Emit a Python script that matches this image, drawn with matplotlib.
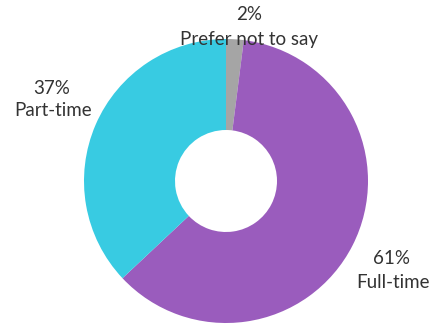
import matplotlib
matplotlib.use("Agg")
import matplotlib.pyplot as plt

categories = ["Prefer not to say", "Full-time", "Part-time"]
values = [2, 61, 37]
colors = ["#a5a5a5", "#9a5cbd", "#38cbe2"]

fig = plt.figure(figsize=(4.32, 3.24), dpi=100)
ax = fig.add_axes([0, 0, 1, 1])

cx, cy, r = 226, 181, 142
# y axis is inverted (pixel-like coords), so visual clockwise from top = counterclock from 270
ax.pie(values, colors=colors, startangle=270, counterclock=True,
       center=(cx, cy), radius=r, wedgeprops=dict(width=91, linewidth=0),
       frame=True)
ax.set_xlim(0, 432)
ax.set_ylim(324, 0)
ax.set_aspect("equal")
ax.axis("off")

# (pct line x, y), (name line x, y)
label_pos = [((249, 15), (249, 39)), ((392, 258), (393, 283)), ((52, 88), (53, 111))]
for cat, v, (p1, p2) in zip(categories, values, label_pos):
    ax.text(p1[0], p1[1], f"{v}%", ha="center", va="center", fontsize=13.5,
            family="Lato", color="#333333")
    ax.text(p2[0], p2[1], cat, ha="center", va="center", fontsize=13.5,
            family="Lato", color="#333333")

fig.savefig("out.png", dpi=100)
